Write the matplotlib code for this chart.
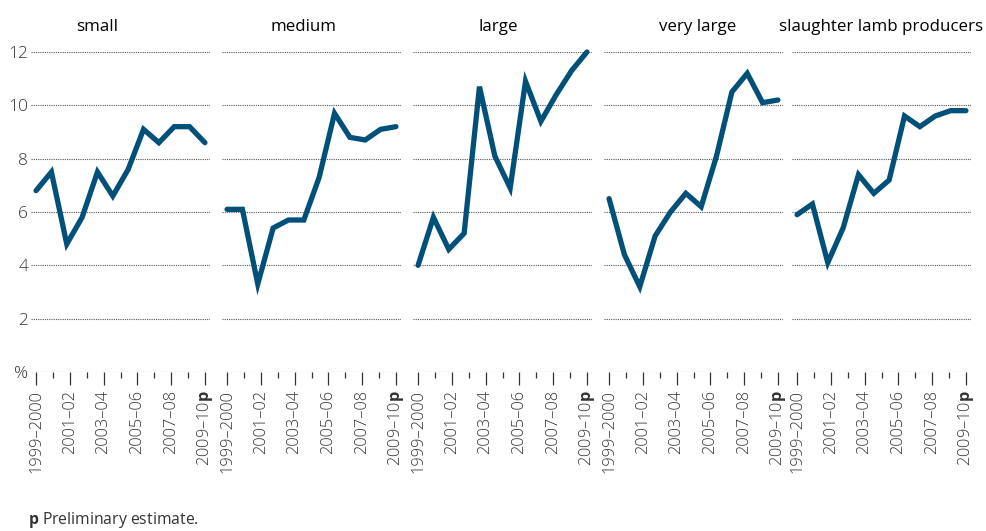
import matplotlib
matplotlib.use("Agg")
import matplotlib.pyplot as plt
import numpy as np

plt.rcParams["font.family"] = ["Open Sans", "DejaVu Sans"]
plt.rcParams["mathtext.fontset"] = "custom"
plt.rcParams["mathtext.rm"] = "Open Sans"
plt.rcParams["mathtext.bf"] = "Open Sans:bold"

# ── Données ──────────────────────────────────────────────────────────────────
groupes = ["small", "medium", "large", "very large", "slaughter lamb producers"]

small = [6.8, 7.5, 4.8, 5.8, 7.5, 6.6, 7.6, 9.1, 8.6, 9.2, 9.2, 8.6]
medium = [6.1, 6.1, 3.3, 5.4, 5.7, 5.7, 7.3, 9.7, 8.8, 8.7, 9.1, 9.2]
large = [4.0, 5.8, 4.6, 5.2, 10.7, 8.1, 6.9, 10.9, 9.4, 10.4, 11.3, 12.0]
very_large = [6.5, 4.4, 3.2, 5.1, 6.0, 6.7, 6.2, 8.1, 10.5, 11.2, 10.1, 10.2]
agneaux = [5.9, 6.3, 4.1, 5.4, 7.4, 6.7, 7.2, 9.6, 9.2, 9.6, 9.8, 9.8]

series = [small, medium, large, very_large, agneaux]

annees = ["1999–2000", "2000–01", "2001–02", "2002–03", "2003–04", "2004–05",
          "2005–06", "2006–07", "2007–08", "2008–09", "2009–10$\\mathbf{p}$"]
y_ticks = [0, 2, 4, 6, 8, 10, 12]
y_labels = ["%", "2", "4", "6", "8", "10", "12"]

# ── Mise en page (pixels) ────────────────────────────────────────────────────
W, H = 986, 531
COULEUR = "#00507a"
GRIS = "#333333"

lefts = [31, 222, 413, 604, 792]
largeur = 179
bas, haut = 372, 52
titre_x = [0.37, 0.453, 0.475, 0.525, 0.497]
titre_y = 31

fig = plt.figure(figsize=(W / 100, H / 100), dpi=100)

n = len(small)
x_data = np.arange(n)
x_ticks = np.linspace(0, n - 1, len(annees))

for i, (nom, vals) in enumerate(zip(groupes, series)):
    ax = fig.add_axes([lefts[i] / W, 1 - bas / H, largeur / W, (bas - haut) / H])
    ax.plot(x_data, vals, color=COULEUR, linewidth=3.8,
            solid_capstyle="round", solid_joinstyle="miter", clip_on=False, zorder=3)

    ax.set_xlim(-0.33, n - 1 + 0.33)
    ax.set_ylim(0, 12)

    for v in y_ticks:
        ax.axhline(v, color="#555555", linewidth=0.8, linestyle=(0, (1, 1)), zorder=1)

    for s in ax.spines.values():
        s.set_visible(False)

    # graduations : longues sur les années étiquetées, courtes entre
    ax.set_xticks(x_ticks[::2])
    ax.set_xticklabels(annees[::2], rotation=90, fontsize=11.8, color=GRIS,
                       fontweight="light")
    ax.set_xticks(x_ticks[1::2], minor=True)
    ax.tick_params(axis="x", which="major", length=9, width=0.9, color=GRIS, pad=4)
    ax.tick_params(axis="x", which="minor", length=4.5, width=0.9, color=GRIS)

    if i == 0:
        ax.set_yticks(y_ticks)
        ax.set_yticklabels(y_labels, fontsize=12.5, color=GRIS, fontweight="light")
        ax.tick_params(axis="y", length=0, pad=2)
    else:
        ax.set_yticks([])

    # titre du groupe, posé au-dessus du cadre
    ax.text(titre_x[i], (bas - titre_y) / (bas - haut), nom, transform=ax.transAxes,
            fontsize=12.2, color="black", ha="center", va="baseline")

fig.text(28 / W, 1 - 520 / H, "$\\mathbf{p}$ Preliminary estimate.", fontsize=11.3,
         color=GRIS, ha="left", va="center")

fig.savefig("out.png", dpi=100)
